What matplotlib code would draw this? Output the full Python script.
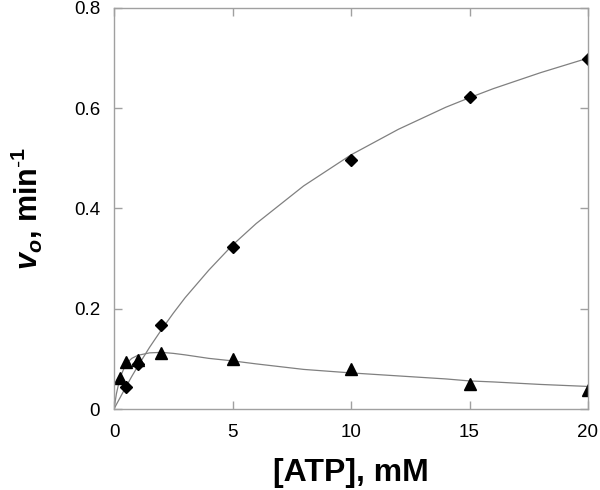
import matplotlib
matplotlib.use("Agg")
import matplotlib.pyplot as plt

plt.rcParams['font.family'] = ['Liberation Sans', 'DejaVu Sans']
plt.rcParams['mathtext.fontset'] = 'custom'
plt.rcParams['mathtext.rm'] = 'Liberation Sans'
plt.rcParams['mathtext.bf'] = 'Liberation Sans:bold'
plt.rcParams['mathtext.it'] = 'Liberation Sans:italic'
plt.rcParams['mathtext.bfit'] = 'Liberation Sans:bold:italic'

# измеренные точки
atp = [0.25, 0.5, 1, 2, 5, 10, 15, 20]
v_diamond = [None, 0.043, 0.089, 0.168, 0.323, 0.497, 0.622, 0.699]
v_triangle = [0.061, 0.094, 0.097, 0.112, 0.100, 0.079, 0.050, 0.037]

# линии аппроксимации
fit_x = [0, 0.1, 0.25, 0.5, 0.75, 1, 1.5, 2, 2.5, 3, 4, 5, 6, 8, 10, 12, 14, 15, 16, 18, 20]
fit_diamond = [0, 0.009, 0.022, 0.044, 0.065, 0.085, 0.123, 0.158, 0.191, 0.222, 0.277,
               0.327, 0.370, 0.445, 0.507, 0.558, 0.602, 0.621, 0.639, 0.671, 0.700]
fit_triangle = [0, 0.030, 0.062, 0.090, 0.101, 0.107, 0.112, 0.113, 0.111, 0.108, 0.101,
                0.096, 0.090, 0.079, 0.072, 0.066, 0.060, 0.056, 0.054, 0.049, 0.045]

fig = plt.figure(figsize=(6, 4.9), dpi=100)
ax = fig.add_axes([0.19, 0.1653, 0.79, 0.8184])

ax.plot(fit_x, fit_diamond, color='#808080', lw=0.9)
ax.plot(fit_x, fit_triangle, color='#808080', lw=0.9)

dx = [x for x, y in zip(atp, v_diamond) if y is not None]
dy = [y for y in v_diamond if y is not None]
ax.plot(dx, dy, 'D', color='black', ms=6.5, ls='none')
ax.plot(atp, v_triangle, '^', color='black', ms=8, ls='none')

ax.set_xlim(0, 20)
ax.set_ylim(0, 0.8)
ax.set_xticks([0, 5, 10, 15, 20])
ax.set_yticks([0, 0.2, 0.4, 0.6, 0.8])
ax.set_yticklabels(['0', '0.2', '0.4', '0.6', '0.8'])

for s in ax.spines.values():
    s.set_color('#a0a0a0')
    s.set_linewidth(1.0)
ax.tick_params(direction='in', length=6, width=1, color='#a0a0a0',
               top=True, right=True, labelsize=13.5)
ax.tick_params(axis='x', pad=11)
ax.tick_params(axis='y', pad=10)

ax.set_xlabel('[ATP], mM', fontsize=23, fontweight='bold', labelpad=12)
ax.set_ylabel(r'$\mathbfit{v}_{\mathbfit{o}}$, min$^{\mathbf{\text{-}1}}$', fontsize=22,
              fontweight='bold', labelpad=21)

fig.savefig('out.png', dpi=100)
